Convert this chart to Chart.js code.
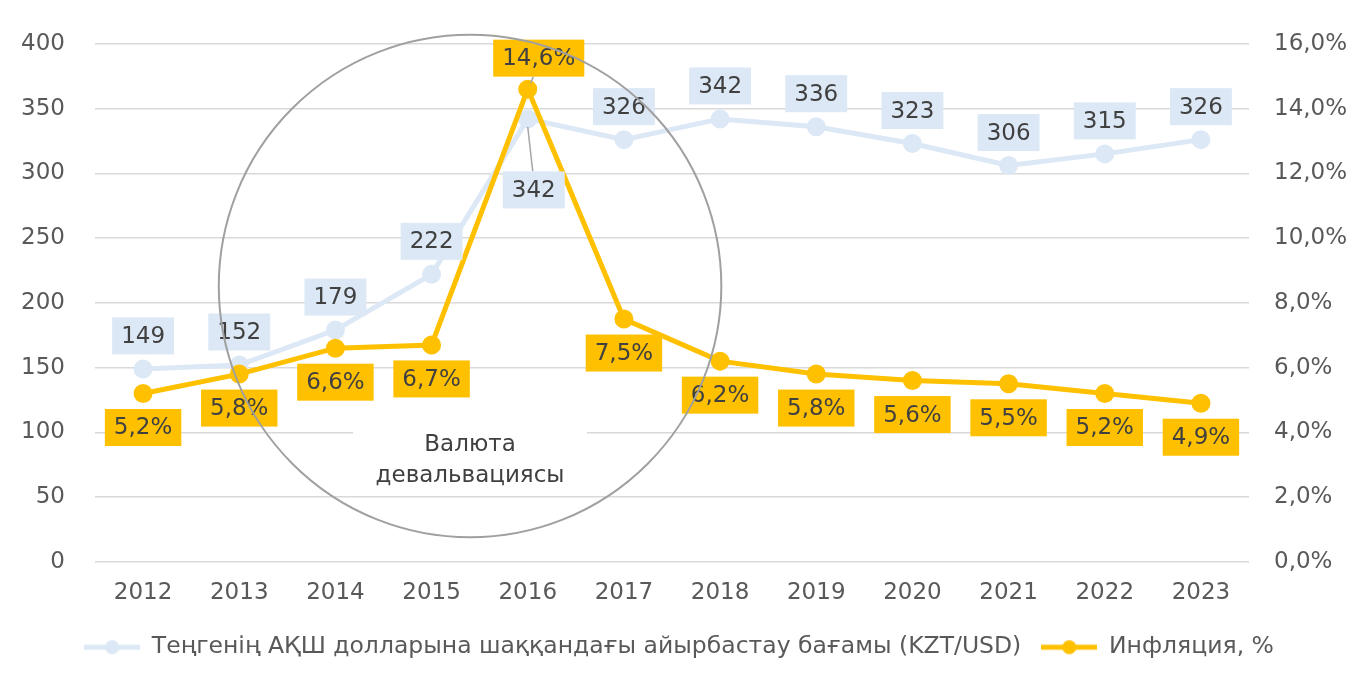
<!DOCTYPE html>
<html>
<head>
<meta charset="utf-8">
<script src="https://cdn.jsdelivr.net/npm/chart.js@4"></script>
<style>
  html, body { margin: 0; padding: 0; background: #fff; }
  #wrap { width: 1358px; height: 677px; }
</style>
</head>
<body>
<div id="wrap"><canvas id="rateChart"></canvas></div>
<script>
// data
const years = ['2012', '2013', '2014', '2015', '2016', '2017', '2018', '2019', '2020', '2021', '2022', '2023'];
const exchangeRate = [149, 152, 179, 222, 342, 326, 342, 336, 323, 306, 315, 326];
const inflation = [5.2, 5.8, 6.6, 6.7, 14.6, 7.5, 6.2, 5.8, 5.6, 5.5, 5.2, 4.9];
const rateLabel = 'Теңгенің АҚШ долларына шаққандағы айырбастау бағамы (KZT/USD)';
const inflationLabel = 'Инфляция, %';
const noteLines = ['Валюта', 'девальвациясы'];

const FONT = 'DejaVu Sans';
const BLUE = '#dce8f5';
const GOLD = '#ffc000';
const TEXT = '#404040';

const fmtPct = v => v.toFixed(1).replace('.', ',') + '%';

// label offsets (px from the point): blue above, gold below, except 2016
const blueShift = i => i === 4 ? { dx: 6, dy: 71, leader: true } : { dx: 0, dy: -33 };
const goldShift = i => i === 4 ? { dx: 11, dy: -31, leader: true } : { dx: 0, dy: 34 };

function legendIcon(color) {
  const c = document.createElement('canvas');
  c.width = 56; c.height = 18;
  const g = c.getContext('2d');
  g.strokeStyle = color;
  g.lineWidth = 5;
  g.beginPath(); g.moveTo(0, 9); g.lineTo(56, 9); g.stroke();
  g.fillStyle = color;
  g.beginPath(); g.arc(28, 9, 7, 0, Math.PI * 2); g.fill();
  return c;
}

const boxLabels = {
  id: 'boxLabels',
  afterDatasetsDraw(chart) {
    const ctx = chart.ctx;
    const yS = chart.scales.y;
    const xS = chart.scales.x;

    // white box behind the note text, then the note
    const cx = xS.getPixelForValue(3.4);
    ctx.save();
    ctx.fillStyle = '#fff';
    ctx.fillRect(cx - 117, yS.getPixelForValue(107), 234, 68);
    ctx.fillStyle = TEXT;
    ctx.font = '23px "' + FONT + '"';
    ctx.textAlign = 'center';
    ctx.textBaseline = 'middle';
    ctx.fillText(noteLines[0], cx, yS.getPixelForValue(90));
    ctx.fillText(noteLines[1], cx, yS.getPixelForValue(66));
    ctx.restore();

    const sets = [
      { meta: chart.getDatasetMeta(0), vals: exchangeRate, fmt: v => String(v), bg: BLUE, shift: blueShift },
      { meta: chart.getDatasetMeta(1), vals: inflation, fmt: fmtPct, bg: GOLD, shift: goldShift }
    ];
    ctx.save();
    ctx.font = '23px "' + FONT + '"';
    ctx.textAlign = 'center';
    ctx.textBaseline = 'middle';
    sets.forEach(s => {
      s.meta.data.forEach((pt, i) => {
        const txt = s.fmt(s.vals[i]);
        const sh = s.shift(i);
        const x = pt.x + sh.dx, y = pt.y + sh.dy;
        const w = ctx.measureText(txt).width + 18, h = 37;
        if (sh.leader) {
          ctx.strokeStyle = '#a6a6a6';
          ctx.lineWidth = 1.5;
          ctx.beginPath();
          const edge = sh.dy > 0 ? y - h / 2 : y + h / 2;
          ctx.moveTo(pt.x + (sh.dy > 0 ? 0 : 3), pt.y + (sh.dy > 0 ? 8 : -6));
          ctx.lineTo(pt.x + sh.dx * 0.5 + (sh.dy > 0 ? 2 : 0), edge);
          ctx.stroke();
        }
        ctx.fillStyle = s.bg;
        ctx.fillRect(x - w / 2, y - h / 2, w, h);
        ctx.fillStyle = TEXT;
        ctx.fillText(txt, x, y + 1);
      });
    });
    ctx.restore();
  },
  afterDraw(chart) {
    // the circle round the devaluation years
    const ctx = chart.ctx;
    const xS = chart.scales.x, yS = chart.scales.y;
    const cx = xS.getPixelForValue(3.4);
    const cy = yS.getPixelForValue(213);
    const r = yS.getPixelForValue(0) - yS.getPixelForValue(194);
    ctx.save();
    ctx.strokeStyle = '#a0a0a0';
    ctx.lineWidth = 2;
    ctx.beginPath();
    ctx.arc(cx, cy, r, 0, Math.PI * 2);
    ctx.stroke();
    ctx.restore();
  }
};

new Chart(document.getElementById('rateChart'), {
  type: 'line',
  data: {
    labels: years,
    datasets: [
      {
        label: rateLabel,
        data: exchangeRate,
        yAxisID: 'y',
        borderColor: BLUE,
        backgroundColor: BLUE,
        borderWidth: 5,
        pointRadius: 7,
        pointHoverRadius: 7,
        tension: 0,
        order: 2
      },
      {
        label: inflationLabel,
        data: inflation,
        yAxisID: 'y1',
        borderColor: GOLD,
        backgroundColor: GOLD,
        borderWidth: 5,
        pointRadius: 7,
        pointHoverRadius: 7,
        tension: 0,
        order: 1
      }
    ]
  },
  options: {
    responsive: true,
    maintainAspectRatio: false,
    animation: false,
    layout: { padding: { left: 0, right: 0, top: 30, bottom: 8 } },
    scales: {
      x: {
        offset: true,
        grid: { display: false },
        border: { display: false },
        ticks: { color: '#595959', font: { family: FONT, size: 23 }, padding: 9 }
      },
      y: {
        position: 'left',
        min: 0,
        max: 400,
        afterFit: s => { s.width = 95; },
        ticks: { stepSize: 50, color: '#595959', font: { family: FONT, size: 23 }, padding: 30 },
        grid: { color: '#d9d9d9', lineWidth: 1.5, drawTicks: false },
        border: { display: false }
      },
      y1: {
        position: 'right',
        min: 0,
        max: 16,
        afterFit: s => { s.width = 109; },
        ticks: { stepSize: 2, color: '#595959', font: { family: FONT, size: 23 }, padding: 25, callback: v => fmtPct(v) },
        grid: { drawOnChartArea: false, drawTicks: false },
        border: { display: false }
      }
    },
    plugins: {
      legend: {
        position: 'bottom',
        labels: {
          color: '#595959',
          font: { family: FONT, size: 23.5 },
          usePointStyle: true,
          pointStyleWidth: 56,
          padding: 20,
          generateLabels: chart => chart.data.datasets.map((ds, i) => ({
            text: ds.label,
            pointStyle: legendIcon(ds.borderColor),
            fillStyle: ds.borderColor,
            strokeStyle: ds.borderColor,
            lineWidth: 0,
            fontColor: '#595959',
            datasetIndex: i,
            hidden: false
          }))
        }
      },
      tooltip: { enabled: false }
    }
  },
  plugins: [boxLabels]
});
</script>
</body>
</html>
